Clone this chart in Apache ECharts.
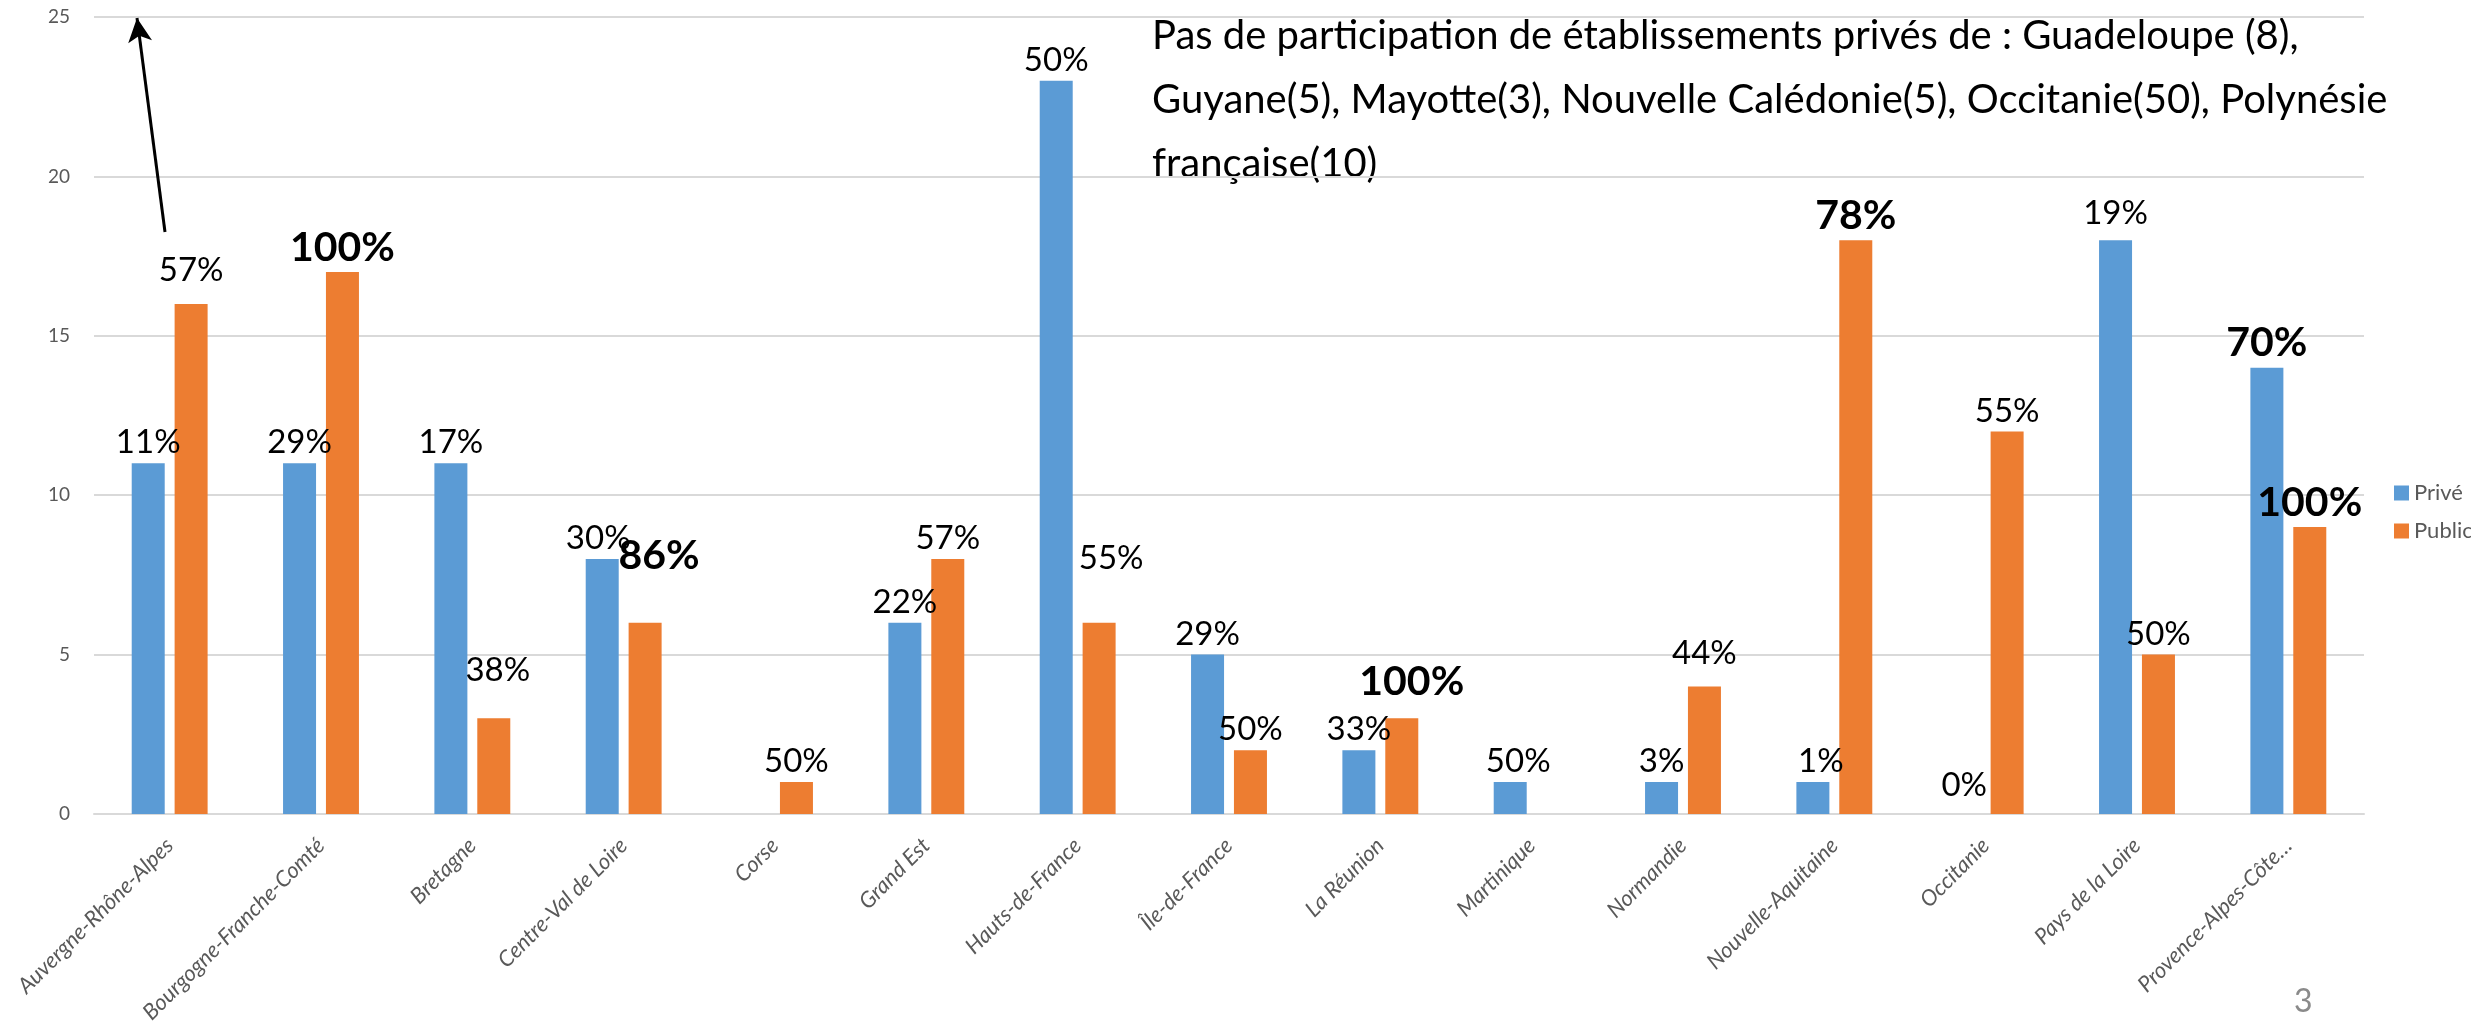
<!DOCTYPE html>
<html>
<head>
<meta charset="utf-8">
<script src="https://cdn.jsdelivr.net/npm/echarts@6/dist/echarts.min.js"></script>
<style>
  html, body { margin: 0; padding: 0; background: #fff; }
  #chart { width: 2471px; height: 1031px; }
</style>
</head>
<body>
<div id="chart"></div>
<script>
// regions
var regions = ['Auvergne-Rhône-Alpes', 'Bourgogne-Franche-Comté', 'Bretagne', 'Centre-Val de Loire',
    'Corse', 'Grand Est', 'Hauts-de-France', 'Île-de-France', 'La Réunion', 'Martinique',
    'Normandie', 'Nouvelle-Aquitaine', 'Occitanie', 'Pays de la Loire', 'Provence-Alpes-Côte…'];
// nombre d'établissements
var priveValues  = [11, 11, 11, 8, 0, 6, 23, 5, 2, 1, 1, 1, 0, 18, 14];
var publicValues = [16, 17, 3, 6, 1, 8, 6, 2, 3, 0, 4, 18, 12, 5, 9];
// taux de participation
var priveTaux  = ['11%', '29%', '17%', '30%', null, '22%', '50%', '29%', '33%', '50%', '3%', '1%', '0%', '19%', '70%'];
var publicTaux = ['57%', '100%', '38%', '86%', '50%', '57%', '55%', '50%', '100%', null, '44%', '78%', '55%', '50%', '100%'];
var yTicks = [0, 5, 10, 15, 20, 25];
var note = 'Pas de participation de établissements privés de : Guadeloupe (8),\n' +
    'Guyane(5), Mayotte(3), Nouvelle Calédonie(5), Occitanie(50), Polynésie\n' +
    'française(10)';

// label styling (bold = highlighted rates, nudges = manual moves)
var priveBold = [14];
var publicBold = [1, 3, 8, 11, 14];
var priveNudge = {3: [-4, 0], 9: [8, 0], 11: [8, 0], 12: [0, -8], 13: [0, -6]};
var publicNudge = {0: [0, -13], 2: [4, -28], 3: [14, -42], 6: [12, -44], 8: [10, -12], 10: [0, -13]};

var FONT = 'Lato, "Open Sans", sans-serif';

function buildData(values, taux, bold, nudge) {
    return values.map(function (v, i) {
        var isBold = bold.indexOf(i) >= 0;
        return {
            value: v,
            label: {
                show: taux[i] != null,
                formatter: taux[i] == null ? '' : taux[i],
                fontSize: isBold ? 41 : 33,
                fontWeight: isBold ? 'bold' : 'normal',
                offset: nudge[i] || [0, 0]
            }
        };
    });
}

var chart = echarts.init(document.getElementById('chart'));
var option = {
    animation: false,
    textStyle: {fontFamily: FONT},
    color: ['#5B9BD5', '#ED7D31'],
    legend: {
        orient: 'vertical',
        left: 2389,
        top: 477,
        icon: 'rect',
        itemWidth: 15,
        itemHeight: 15,
        itemGap: 16,
        textStyle: {fontSize: 22, color: '#595959', fontFamily: FONT},
        data: ['Privé', 'Public']
    },
    grid: {
        left: 94,
        right: 107,
        top: 17,
        bottom: 217
    },
    xAxis: {
        type: 'category',
        data: regions,
        axisLine: {show: true, lineStyle: {color: '#d9d9d9', width: 2}},
        axisTick: {show: false},
        axisLabel: {
            interval: 0,
            rotate: 45,
            fontSize: 22,
            fontStyle: 'italic',
            color: '#595959',
            margin: 28
        }
    },
    yAxis: {
        type: 'value',
        min: yTicks[0],
        max: yTicks[yTicks.length - 1],
        interval: 5,
        axisLine: {show: false},
        axisTick: {show: false},
        splitLine: {lineStyle: {color: '#d9d9d9', width: 2}},
        axisLabel: {fontSize: 19, color: '#595959', margin: 24}
    },
    series: [
        {
            name: 'Privé',
            type: 'bar',
            barWidth: 33,
            barGap: '30%',
            label: {show: true, position: 'top', distance: 4, color: '#000'},
            data: buildData(priveValues, priveTaux, priveBold, priveNudge),
            markLine: {
                silent: true,
                symbol: ['none', 'arrow'],
                symbolSize: [18, 24],
                label: {show: false},
                lineStyle: {color: '#000', width: 3, type: 'solid'},
                data: [[{x: 165, y: 232}, {x: 137, y: 18}]]
            }
        },
        {
            name: 'Public',
            type: 'bar',
            barWidth: 33,
            barGap: '30%',
            label: {show: true, position: 'top', distance: 4, color: '#000'},
            data: buildData(publicValues, publicTaux, publicBold, publicNudge)
        }
    ],
    graphic: [
        {
            type: 'text',
            left: 1152,
            top: 4,
            style: {
                text: note,
                font: '40px ' + FONT,
                lineHeight: 64,
                fill: '#000'
            }
        },
        {
            type: 'text',
            left: 2294,
            top: 986,
            style: {
                text: '3',
                font: '32px ' + FONT,
                fill: '#8a8a8a'
            }
        }
    ]
};
chart.setOption(option);
</script>
</body>
</html>
